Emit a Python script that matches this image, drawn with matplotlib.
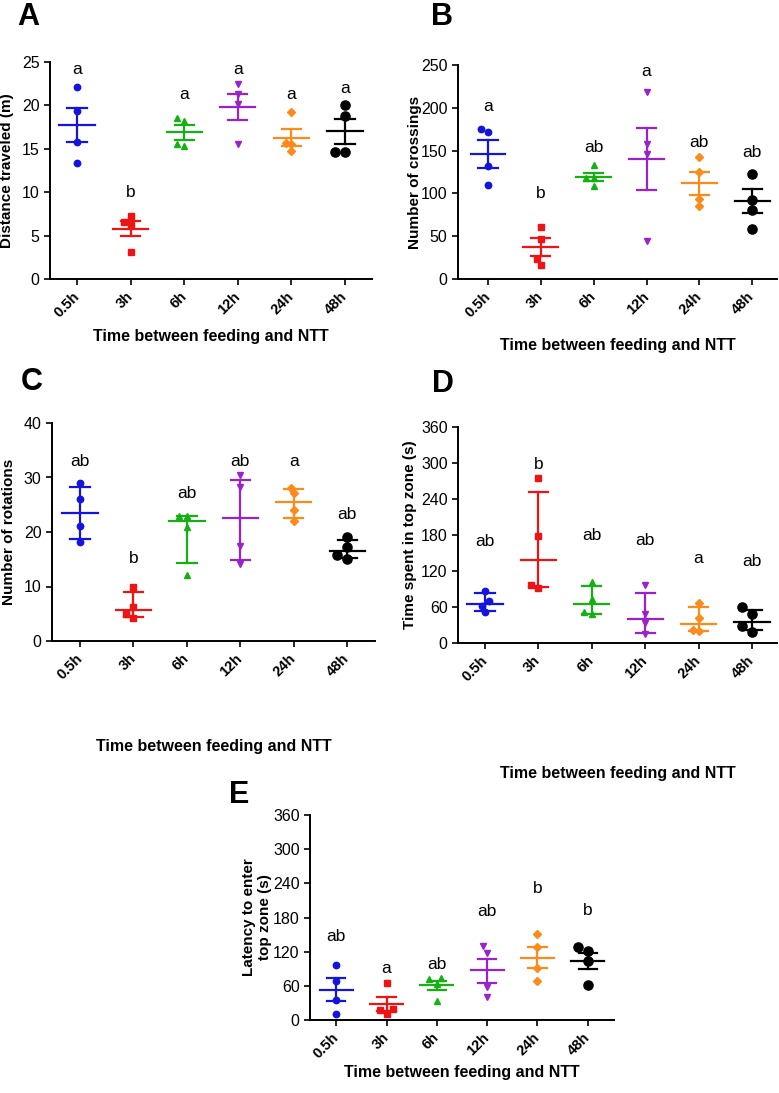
import numpy as np
import matplotlib
matplotlib.use('Agg')
import matplotlib.pyplot as plt

plt.rcParams['font.family'] = ['Liberation Sans', 'DejaVu Sans']

groups = ['0.5h', '3h', '6h', '12h', '24h', '48h']
colors = ['#1414dc', '#ee1414', '#14b014', '#9a22cc', '#fb8c1c', '#000000']
markers = ['o', 's', '^', 'v', 'D', 'o']
msizes = [4.6, 4.6, 5.0, 5.0, 3.6, 6.6]

# panel A - distance traveled (mean +- SEM)
a_pts = [[22.1, 19.3, 15.8, 13.4], [7.3, 6.6, 6.2, 3.15], [18.5, 18.2, 15.6, 15.3],
         [22.5, 21.3, 20.2, 15.6], [19.2, 15.7, 15.6, 14.7], [20.1, 18.8, 14.6, 14.6]]
a_mid = [17.7, 5.8, 16.9, 19.85, 16.3, 17.0]
a_lo = [15.75, 4.9, 16.05, 18.35, 15.3, 15.6]
a_hi = [19.65, 6.7, 17.7, 21.35, 17.3, 18.45]
a_let = ['a', 'b', 'a', 'a', 'a', 'a']
a_let_y = [24.1, 10.0, 21.3, 24.1, 21.3, 22.0]

# panel B - crossings (mean +- SEM)
b_pts = [[175, 172, 132, 110], [61, 47, 23, 16], [133, 118, 118, 109],
         [218, 158, 146, 44], [142, 125, 94, 85], [123, 92, 81, 58]]
b_mid = [146, 37, 119.5, 140, 112, 91]
b_lo = [130, 27, 115, 104, 98, 77.5]
b_hi = [162, 47.5, 124, 176, 125, 105]
b_let = ['a', 'b', 'ab', 'a', 'ab', 'ab']
b_let_y = [201, 100, 154, 242, 160, 148]

# panel C - rotations (median, IQR)
c_pts = [[29, 26, 21.1, 18.1], [10, 6.25, 4.9, 4.2], [23, 23, 21, 12.1],
         [30.4, 28.3, 17.4, 14.1], [28, 27.1, 24, 22], [19.1, 17.3, 15.8, 15.1]]
c_mid = [23.5, 5.6, 22, 22.5, 25.5, 16.55]
c_lo = [18.8, 4.4, 14.3, 14.9, 22.5, 15.3]
c_hi = [28.3, 9.0, 23, 29.5, 27.8, 18.6]
c_let = ['ab', 'b', 'ab', 'ab', 'a', 'ab']
c_let_y = [32.9, 15.1, 27.1, 32.9, 32.9, 23.3]

# panel D - time in top zone (median, IQR)
d_pts = [[87, 70, 62, 51], [275, 179, 97, 92], [102, 74, 52, 48],
         [96, 49, 34, 15], [66, 41, 22, 20], [60, 48, 28, 19]]
d_mid = [65.5, 139, 65.5, 39.5, 31.5, 35.5]
d_lo = [53, 93, 49, 17, 20.5, 21]
d_hi = [83, 251, 95, 84, 59.5, 55]
d_let = ['ab', 'b', 'ab', 'ab', 'a', 'ab']
d_let_y = [169, 298, 180, 171.5, 141, 135.6]

# panel E - latency (mean +- SEM)
e_pts = [[97, 69, 35, 10.5], [65.6, 19.3, 17.6, 10.5], [74.4, 72, 62.6, 34],
         [130, 118, 58.5, 41], [150.5, 127.6, 90.7, 68.5], [128.8, 121.2, 103.6, 61.5]]
e_mid = [52.7, 28.5, 61.5, 87, 109.5, 103.7]
e_lo = [33.4, 16.4, 52.7, 65, 90.7, 89]
e_hi = [73.2, 41, 69.1, 108, 127.6, 118.2]
e_let = ['ab', 'a', 'ab', 'ab', 'b', 'b']
e_let_y = [146, 90, 97, 191, 231, 193]

W, H = 779, 1093
fig = plt.figure(figsize=(W / 100, H / 100), dpi=100)


def px_axes(l, t, r, b):
    return fig.add_axes([l / W, 1 - b / H, (r - l) / W, (b - t) / H])


def swarm(vals, ax, xr, yr, diam):
    # simple beeswarm: offsets in category units so markers do not overlap
    bb = ax.get_position()
    ppx = bb.width * W / (xr[1] - xr[0])
    ppy = bb.height * H / (yr[1] - yr[0])
    placed = []
    offs = [0.0] * len(vals)
    for i in sorted(range(len(vals)), key=lambda k: vals[k]):
        y = vals[i] * ppy
        for k in [0, -0.5, 0.5, -1, 1, -1.5, 1.5, -2, 2]:
            x = k * diam
            if all(np.hypot(x - px, y - py) >= diam * 0.95 for px, py in placed):
                break
        placed.append((x, y))
        offs[i] = x / ppx
    return offs


def panel(rect, xr, ylim, yticks, pts, mid, lo, hi, let, let_y, ylabel,
          ylab_x, xlab_y):
    ax = px_axes(*rect)
    ax.set_xlim(*xr)
    ax.set_ylim(*ylim)
    for i in range(len(groups)):
        c = colors[i]
        diam = msizes[i] * 1.39 + 0.6
        offs = swarm(pts[i], ax, xr, ylim, diam)
        ax.plot(np.array(offs) + i, pts[i], linestyle='none', marker=markers[i],
                ms=msizes[i], color=c, mec=c, clip_on=False, zorder=3)
        ax.plot([i - 0.33, i + 0.33], [mid[i], mid[i]], color=c, lw=1.6, zorder=4)
        ax.plot([i, i], [lo[i], hi[i]], color=c, lw=1.6, zorder=4)
        for v in (lo[i], hi[i]):
            ax.plot([i - 0.18, i + 0.18], [v, v], color=c, lw=1.6, zorder=4)
        ax.text(i, let_y[i], let[i], ha='center', va='center', fontsize=12.5)
    for s in ['top', 'right']:
        ax.spines[s].set_visible(False)
    for s in ['left', 'bottom']:
        ax.spines[s].set_linewidth(1.4)
    ax.set_yticks(yticks)
    ax.set_xticks(range(len(groups)))
    ax.set_xticklabels(groups, rotation=45, ha='right', va='center',
                       rotation_mode='anchor', fontweight='bold', fontsize=10.5)
    ax.tick_params(axis='both', direction='out', length=4, width=1.2, labelsize=11.5)
    ax.tick_params(axis='x', pad=7, labelsize=10.5)
    ax.set_ylabel(ylabel, fontweight='bold', fontsize=11, ha='center')
    ax.yaxis.set_label_coords(ylab_x, 0.5)
    ax.set_xlabel('Time between feeding and NTT', fontweight='bold', fontsize=11.5)
    ax.xaxis.set_label_coords(0.5, xlab_y)
    return ax


panel((50, 62, 372, 279), (-0.504, 5.504), (0, 25), range(0, 26, 5),
      a_pts, a_mid, a_lo, a_hi, a_let, a_let_y, 'Distance traveled (m)', -0.112, -0.232)
panel((458, 65, 777, 279), (-0.568, 5.47), (0, 250), range(0, 251, 50),
      b_pts, b_mid, b_lo, b_hi, b_let, b_let_y, 'Number of crossings', -0.1125, -0.275)
panel((52, 423, 375, 641), (-0.524, 5.52), (0, 40), range(0, 41, 10),
      c_pts, c_mid, c_lo, c_hi, c_let, c_let_y, 'Number of rotations', -0.112, -0.45)
panel((458, 427, 777, 643), (-0.506, 5.47), (0, 360), range(0, 361, 60),
      d_pts, d_mid, d_lo, d_hi, d_let, d_let_y, 'Time spent in top zone (s)', -0.128, -0.57)
panel((310, 815, 614, 1020), (-0.52, 5.52), (0, 360), range(0, 361, 60),
      e_pts, e_mid, e_lo, e_hi, e_let, e_let_y, 'Latency to enter\ntop zone (s)', -0.125, -0.22)

for lab, x, y in [('A', 17, 25), ('B', 431, 25), ('C', 21, 390), ('D', 432, 392), ('E', 229, 803)]:
    fig.text(x / W, 1 - y / H, lab, fontsize=22, fontweight='bold', ha='left', va='baseline')

fig.savefig('out.png', dpi=100)
